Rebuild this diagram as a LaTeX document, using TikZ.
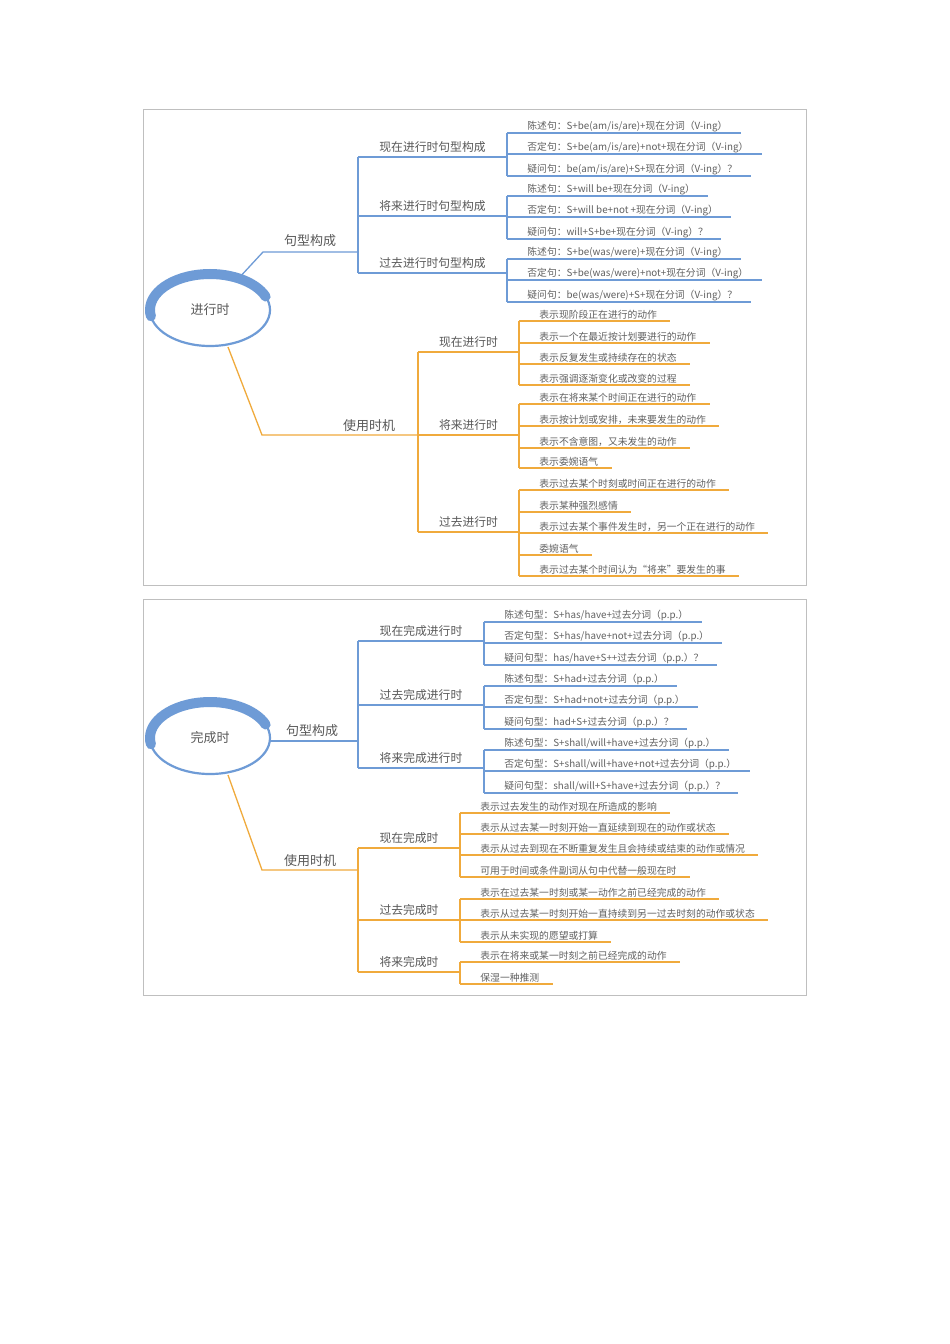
\documentclass[tikz,border=0pt]{standalone}
\usepackage{fontspec}
\setmainfont{Noto Sans CJK SC}
\begin{document}
\begin{tikzpicture}[x=1pt,y=1pt,
  leaf/.style={font=\fontsize{9.8}{11}\selectfont,text=black!62,inner sep=1.2pt},
  subT/.style={font=\fontsize{11.8}{13}\selectfont,text=black!65,inner sep=1pt},
  topT/.style={font=\fontsize{13}{15}\selectfont,text=black!65,inner sep=1pt},
  bl/.style={draw=blueC,line width=1.3pt},
  og/.style={draw=orangeC,line width=1.3pt},
  frameB/.style={draw=black!25,line width=0.6pt}]
\definecolor{blueC}{HTML}{6E9BD6}
\definecolor{orangeC}{HTML}{F0AA3C}
\useasboundingbox (0,0) rectangle (950,-1344);
\fill[white] (0,0) rectangle (950,-1344);
\newcommand\myleaf[5]{\node[leaf,anchor=south west] (#1) at (#2+19,-#3) {#5};
  \draw[#4] ([xshift=-19pt]#1.south west) -- ([xshift=12pt]#1.south east);}
\newcommand\mysub[6]{\coordinate (#1a) at (#2,-#4); \coordinate (#1b) at (#3,-#4);
  \node[subT,anchor=south] (#1) at ({(#2+#3)/2},-#4+3) {#6};
  \draw[#5] (#1a) -- (#1b);}
\newcommand\myvl[3]{\draw[#1] ([xshift=-19pt]#2.south west) -- ([xshift=-19pt]#3.south west);}
% ===== diagram 1 =====
\draw[frameB] (143,-109) rectangle (806,-585);
\node[topT] (r1) at (210,-310) {进行时};
\draw[blueC,line width=2.2pt] (210,-310) ellipse [x radius=60, y radius=36];
\draw[blueC,line width=10pt,line cap=round] (210,-310) ++(190:60 and 36) arc [start angle=190,end angle=22,x radius=60,y radius=36];
\coordinate (b1s) at (238,-279); \coordinate (b1k) at (263,-252); \coordinate (b1e) at (358,-252);
\node[topT,anchor=south] (b1) at (310,-248) {句型构成};
\draw[bl] (b1s) -- (b1k) -- (b1e);
\coordinate (v1t) at (358,-157); \coordinate (v1b) at (358,-273);
\draw[bl] (v1t) -- (v1b);
\mysub{s11}{358}{507}{157}{bl}{现在进行时句型构成}
\mysub{s12}{358}{507}{216}{bl}{将来进行时句型构成}
\mysub{s13}{358}{507}{273}{bl}{过去进行时句型构成}
\myleaf{a1}{507}{133}{bl}{陈述句：S+be(am/is/are)+现在分词（V-ing）}
\myleaf{a2}{507}{154}{bl}{否定句：S+be(am/is/are)+not+现在分词（V-ing）}
\myleaf{a3}{507}{176}{bl}{疑问句：be(am/is/are)+S+现在分词（V-ing）？}
\myvl{bl}{a1}{a3}
\myleaf{a4}{507}{196}{bl}{陈述句：S+will be+现在分词（V-ing）}
\myleaf{a5}{507}{217}{bl}{否定句：S+will be+not +现在分词（V-ing）}
\myleaf{a6}{507}{239}{bl}{疑问句：will+S+be+现在分词（V-ing）？}
\myvl{bl}{a4}{a6}
\myleaf{a7}{507}{259}{bl}{陈述句：S+be(was/were)+现在分词（V-ing）}
\myleaf{a8}{507}{280}{bl}{否定句：S+be(was/were)+not+现在分词（V-ing）}
\myleaf{a9}{507}{302}{bl}{疑问句：be(was/were)+S+现在分词（V-ing）？}
\myvl{bl}{a7}{a9}
\coordinate (o1s) at (228,-347); \coordinate (o1k) at (262,-435); \coordinate (o1e) at (418,-435);
\node[topT,anchor=south] (o1) at (369,-433) {使用时机};
\draw[og] (o1s) -- (o1k) -- (o1e);
\coordinate (w1t) at (418,-352); \coordinate (w1b) at (418,-532);
\draw[og] (w1t) -- (w1b);
\mysub{t11}{418}{519}{352}{og}{现在进行时}
\mysub{t12}{418}{519}{435}{og}{将来进行时}
\mysub{t13}{418}{519}{532}{og}{过去进行时}
\myleaf{c1}{519}{321}{og}{表示现阶段正在进行的动作}
\myleaf{c2}{519}{343}{og}{表示一个在最近按计划要进行的动作}
\myleaf{c3}{519}{364}{og}{表示反复发生或持续存在的状态}
\myleaf{c4}{519}{385}{og}{表示强调逐渐变化或改变的过程}
\myvl{og}{c1}{c4}
\myleaf{c5}{519}{404}{og}{表示在将来某个时间正在进行的动作}
\myleaf{c6}{519}{426}{og}{表示按计划或安排，未来要发生的动作}
\myleaf{c7}{519}{448}{og}{表示不含意图，又未发生的动作}
\myleaf{c8}{519}{468}{og}{表示委婉语气}
\myvl{og}{c5}{c8}
\myleaf{c9}{519}{490}{og}{表示过去某个时刻或时间正在进行的动作}
\myleaf{c10}{519}{512}{og}{表示某种强烈感情}
\myleaf{c11}{519}{533}{og}{表示过去某个事件发生时，另一个正在进行的动作}
\myleaf{c12}{519}{555}{og}{委婉语气}
\myleaf{c13}{519}{576}{og}{表示过去某个时间认为“将来”要发生的事}
\myvl{og}{c9}{c13}
% ===== diagram 2 =====
\draw[frameB] (143,-599) rectangle (806,-995);
\node[topT] (r2) at (210,-738) {完成时};
\draw[blueC,line width=2.2pt] (210,-738) ellipse [x radius=60, y radius=36];
\draw[blueC,line width=10pt,line cap=round] (210,-738) ++(190:60 and 36) arc [start angle=190,end angle=22,x radius=60,y radius=36];
\coordinate (b2s) at (270,-741); \coordinate (b2e) at (358,-741);
\node[topT,anchor=south] (b2) at (312,-738) {句型构成};
\draw[bl] (b2s) -- (b2e);
\coordinate (v2t) at (358,-641); \coordinate (v2b) at (358,-768);
\draw[bl] (v2t) -- (v2b);
\mysub{s21}{358}{484}{641}{bl}{现在完成进行时}
\mysub{s22}{358}{484}{705}{bl}{过去完成进行时}
\mysub{s23}{358}{484}{768}{bl}{将来完成进行时}
\myleaf{d1}{484}{622}{bl}{陈述句型：S+has/have+过去分词（p.p.）}
\myleaf{d2}{484}{643}{bl}{否定句型：S+has/have+not+过去分词（p.p.）}
\myleaf{d3}{484}{665}{bl}{疑问句型：has/have+S++过去分词（p.p.）？}
\myvl{bl}{d1}{d3}
\myleaf{d4}{484}{686}{bl}{陈述句型：S+had+过去分词（p.p.）}
\myleaf{d5}{484}{707}{bl}{否定句型：S+had+not+过去分词（p.p.）}
\myleaf{d6}{484}{729}{bl}{疑问句型：had+S+过去分词（p.p.）？}
\myvl{bl}{d4}{d6}
\myleaf{d7}{484}{750}{bl}{陈述句型：S+shall/will+have+过去分词（p.p.）}
\myleaf{d8}{484}{771}{bl}{否定句型：S+shall/will+have+not+过去分词（p.p.）}
\myleaf{d9}{484}{793}{bl}{疑问句型：shall/will+S+have+过去分词（p.p.）？}
\myvl{bl}{d7}{d9}
\coordinate (o2s) at (228,-775); \coordinate (o2k) at (262,-870); \coordinate (o2e) at (358,-870);
\node[topT,anchor=south] (o2) at (310,-868) {使用时机};
\draw[og] (o2s) -- (o2k) -- (o2e);
\coordinate (w2t) at (358,-848); \coordinate (w2b) at (358,-972);
\draw[og] (w2t) -- (w2b);
\mysub{t21}{358}{460}{848}{og}{现在完成时}
\mysub{t22}{358}{460}{920}{og}{过去完成时}
\mysub{t23}{358}{460}{972}{og}{将来完成时}
\myleaf{e1}{460}{813}{og}{表示过去发生的动作对现在所造成的影响}
\myleaf{e2}{460}{834}{og}{表示从过去某一时刻开始一直延续到现在的动作或状态}
\myleaf{e3}{460}{855}{og}{表示从过去到现在不断重复发生且会持续或结束的动作或情况}
\myleaf{e4}{460}{877}{og}{可用于时间或条件副词从句中代替一般现在时}
\myvl{og}{e1}{e4}
\myleaf{e5}{460}{899}{og}{表示在过去某一时刻或某一动作之前已经完成的动作}
\myleaf{e6}{460}{920}{og}{表示从过去某一时刻开始一直持续到另一过去时刻的动作或状态}
\myleaf{e7}{460}{942}{og}{表示从未实现的愿望或打算}
\myvl{og}{e5}{e7}
\myleaf{e8}{460}{962}{og}{表示在将来或某一时刻之前已经完成的动作}
\myleaf{e9}{460}{984}{og}{保湿一种推测}
\myvl{og}{e8}{e9}
\end{tikzpicture}
\end{document}
